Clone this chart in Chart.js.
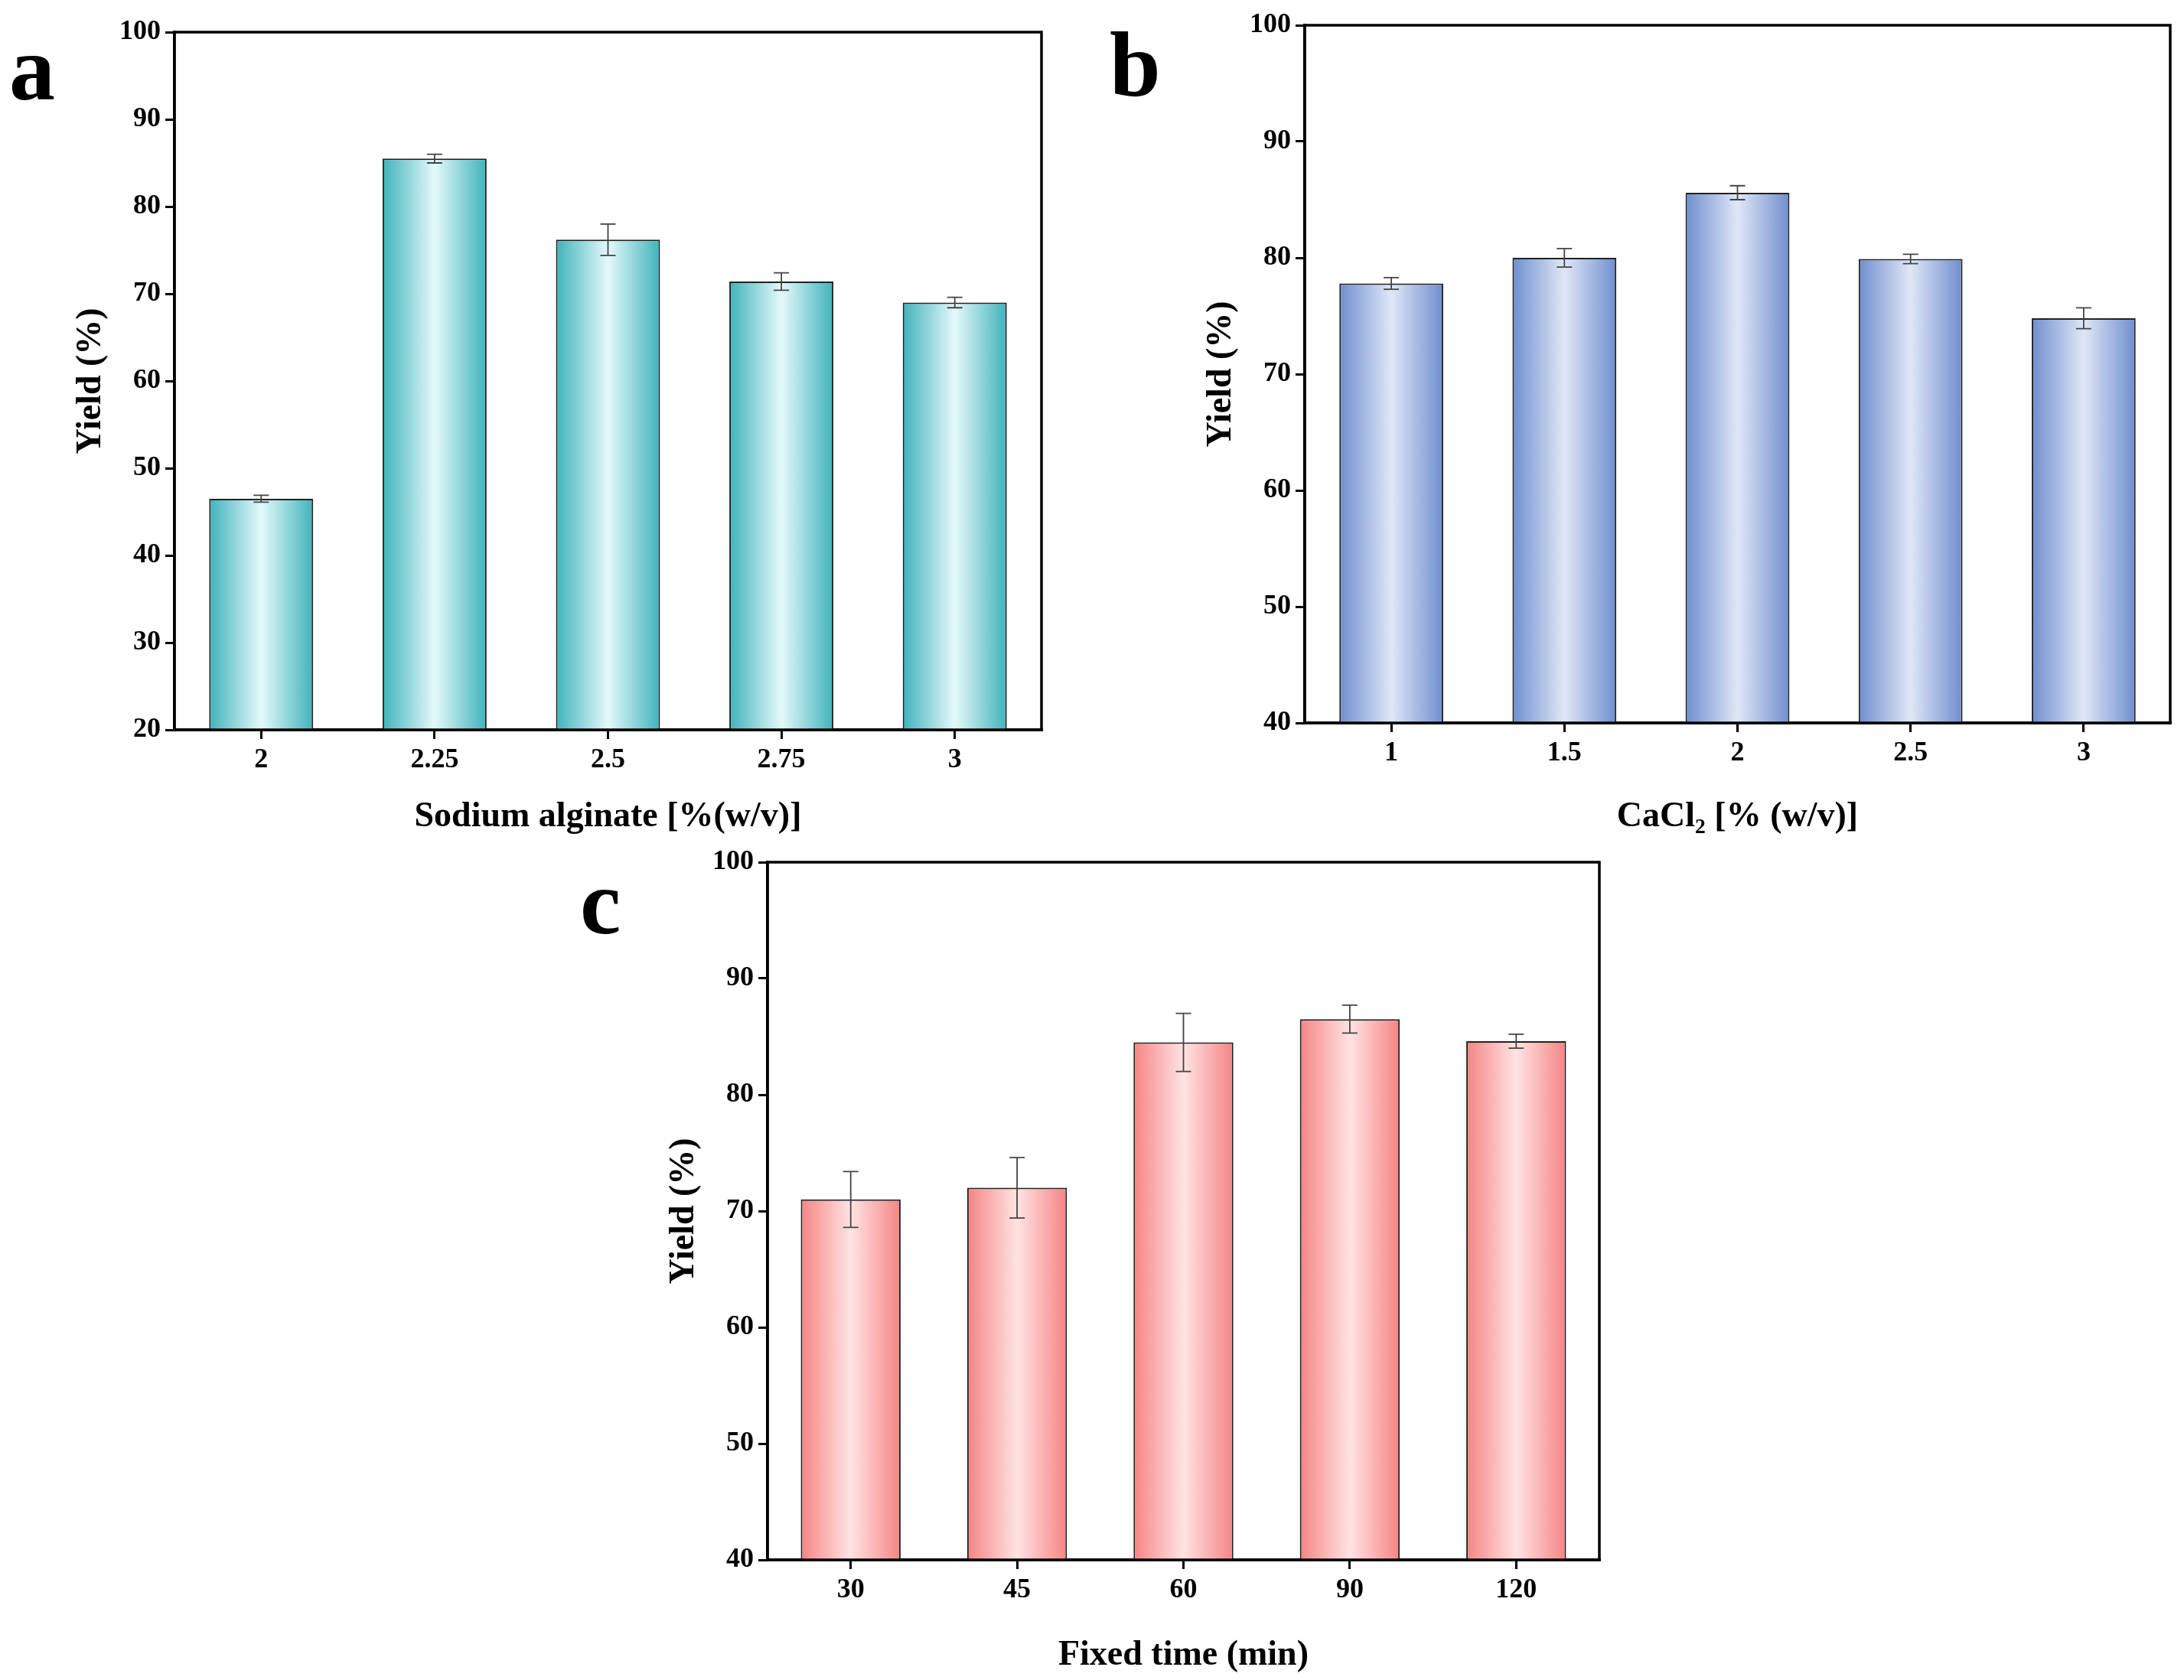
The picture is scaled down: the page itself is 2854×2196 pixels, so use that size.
<!DOCTYPE html>
<html><head><meta charset="utf-8">
<script src="https://cdn.jsdelivr.net/npm/chart.js@4"></script>
<style>
body{margin:0;width:2854px;height:2196px;background:#fff;position:relative;overflow:hidden;font-family:"Liberation Serif",serif}
canvas{position:absolute}
.lbl{position:absolute;font-weight:bold;font-size:120px;line-height:1}
</style></head><body>
<canvas id="ca" style="left:0;top:0" width="1400" height="1100"></canvas>
<canvas id="cb" style="left:1480px;top:0" width="1374" height="1100"></canvas>
<canvas id="cc" style="left:780px;top:1090px" width="1400" height="1106"></canvas>
<div class="lbl" style="left:12px;top:30px">a</div>
<div class="lbl" style="left:1450px;top:25px">b</div>
<div class="lbl" style="left:758px;top:1120px">c</div>
<script>
const catsA = ['2','2.25','2.5','2.75','3'];
const valsA = [46.5, 85.5, 76.2, 71.4, 69.0];
const errA = [0.4, 0.5, 1.8, 1.0, 0.6];
const catsB = ['1','1.5','2','2.5','3'];
const valsB = [77.8, 80.0, 85.6, 79.9, 74.8];
const errB = [0.5, 0.8, 0.6, 0.4, 0.9];
const catsC = ['30','45','60','90','120'];
const valsC = [71.0, 72.0, 84.5, 86.5, 84.6];
const errC = [2.4, 2.6, 2.5, 1.2, 0.6];

const fnt = 'Liberation Serif';
const BAR_PCT = 0.6;

// error bars and frame
const errPlugin = {
  id: 'errbars',
  afterDatasetsDraw(chart) {
    const ctx = chart.ctx, ys = chart.scales.y;
    const ds = chart.data.datasets[0];
    ctx.save();
    ctx.strokeStyle = '#444'; ctx.lineWidth = 1.8;
    chart.getDatasetMeta(0).data.forEach((bar, i) => {
      const v = ds.data[i], e = ds.err[i];
      const t = ys.getPixelForValue(v + e), b = ys.getPixelForValue(v - e);
      ctx.beginPath();
      ctx.moveTo(bar.x, t); ctx.lineTo(bar.x, b);
      ctx.moveTo(bar.x - 10, t); ctx.lineTo(bar.x + 10, t);
      ctx.moveTo(bar.x - 10, b); ctx.lineTo(bar.x + 10, b);
      ctx.stroke();
    });
    const a = chart.chartArea;
    ctx.strokeStyle = '#000'; ctx.lineWidth = 3.5;
    ctx.strokeRect(a.left, a.top, a.right - a.left, a.bottom - a.top);
    ctx.restore();
  }
};

function barGradient(colors) {
  return function(c) {
    const chart = c.chart, xs = chart.scales.x;
    if (!xs || !chart.chartArea || c.dataIndex === undefined) return colors[0];
    const cx = xs.getPixelForValue(c.dataIndex);
    const w = (chart.chartArea.right - chart.chartArea.left) / chart.data.labels.length * BAR_PCT;
    const g = chart.ctx.createLinearGradient(cx - w / 2, 0, cx + w / 2, 0);
    g.addColorStop(0, colors[0]); g.addColorStop(0.5, colors[1]); g.addColorStop(1, colors[0]);
    return g;
  };
}

function make(id, cats, vals, errs, ymin, xTitle, colors, xh, pad) {
  new Chart(document.getElementById(id), {
    type: 'bar',
    data: { labels: cats, datasets: [{ data: vals, err: errs, borderColor: '#222', borderWidth: 2,
      backgroundColor: barGradient(colors),
      barPercentage: BAR_PCT, categoryPercentage: 1 }] },
    options: {
      responsive: false, animation: false,
      layout: { padding: pad },
      plugins: { legend: { display: false }, tooltip: { enabled: false } },
      scales: {
        x: {
          afterFit(s) { s.height = xh; },
          grid: { offset: false, drawOnChartArea: false, color: '#000', lineWidth: 3, tickLength: 12 },
          border: { color: '#000', width: 3.5 },
          ticks: { color: '#000', font: { family: fnt, size: 36, weight: 'bold' }, padding: 6 },
          title: { display: true, text: xTitle, color: '#000', font: { family: fnt, size: 46, weight: 'bold' }, padding: { top: 14 } }
        },
        y: {
          min: ymin, max: 100,
          afterFit(s) { s.width = 140; },
          grid: { drawOnChartArea: false, color: '#000', lineWidth: 3, tickLength: 12 },
          border: { color: '#000', width: 3.5 },
          ticks: { stepSize: 10, color: '#000', font: { family: fnt, size: 36, weight: 'bold' }, padding: 6 },
          title: { display: true, text: 'Yield (%)', color: '#000', font: { family: fnt, size: 46, weight: 'bold' }, padding: { bottom: 8 } }
        }
      }
    },
    plugins: [errPlugin]
  });
}

make('ca', catsA, valsA, errA, 20, 'Sodium alginate [%(w/v)]', ['#3fb3bb', '#e4f9fb'], 146, { top: 42, right: 39, left: 88 });
make('cb', catsB, valsB, errB, 40, 'CaCl\u2082 [% (w/v)]', ['#6f8ecf', '#e0e7f6'], 155, { top: 33, right: 18, left: 85 });
make('cc', catsC, valsC, errC, 40, 'Fixed time (min)', ['#f58484', '#ffe3e3'], 157, { top: 37, right: 90, left: 83 });
</script>
</body></html>
